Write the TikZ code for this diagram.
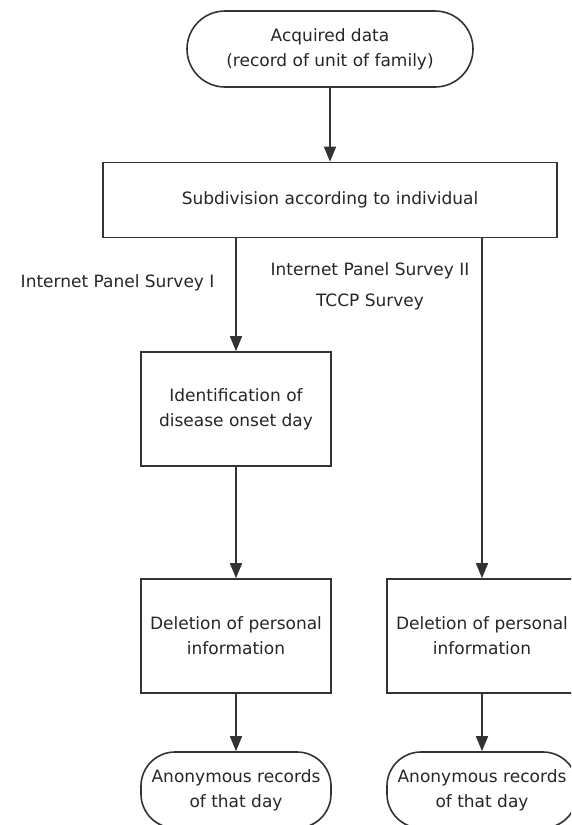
\documentclass[tikz,border=0pt]{standalone}
\usepackage{fontspec}
\setmainfont{DejaVu Sans}
\usetikzlibrary{arrows.meta, positioning}

\begin{document}
\begin{tikzpicture}[x=1pt, y=-1pt,
    every node/.style={font=\fontsize{17}{25}\selectfont, text=black!85},
    b/.style={draw=black!80, line width=1.6pt, inner sep=0, align=center,
      minimum width=190pt, minimum height=114pt},
    t/.style={b, rounded corners=34pt, minimum height=76pt},
    a/.style={draw=black!80, line width=1.6pt, -{Triangle[length=15pt, width=12pt]}}]
  \useasboundingbox (0,0) rectangle (571,825);
  \clip (0,0) rectangle (571,825);

  \node[t, minimum width=286pt, rounded corners=38pt] (acq) at (330,49) {Acquired data\\(record of unit of family)};
  \node[b, minimum width=454pt, minimum height=75pt] (sub) at (330,200) {Subdivision according to individual};
  \node[b] (ident) at (236,409) {Identification of\\disease onset day};

  \foreach \i/\x in {1/236, 2/482} {
    \node[b] (del\i) at (\x,636) {Deletion of personal\\information};
    \node[t] (anon\i) at (\x,790) {Anonymous records\\of that day};
    \draw[a] (del\i) -- (anon\i);
  }

  \draw[a] (acq) -- (sub);
  \draw[a] (sub.south -| ident.north) -- (ident.north);
  \draw[a] (ident) -- (del1);
  \draw[a] (sub.south -| del2.north) -- (del2.north);

  \node[anchor=east] (lab1) at (218,283) {Internet Panel Survey I};
  \node[align=center, font=\fontsize{17}{31}\selectfont] (lab2) at (370,286) {Internet Panel Survey II\\TCCP Survey};
\end{tikzpicture}
\end{document}
